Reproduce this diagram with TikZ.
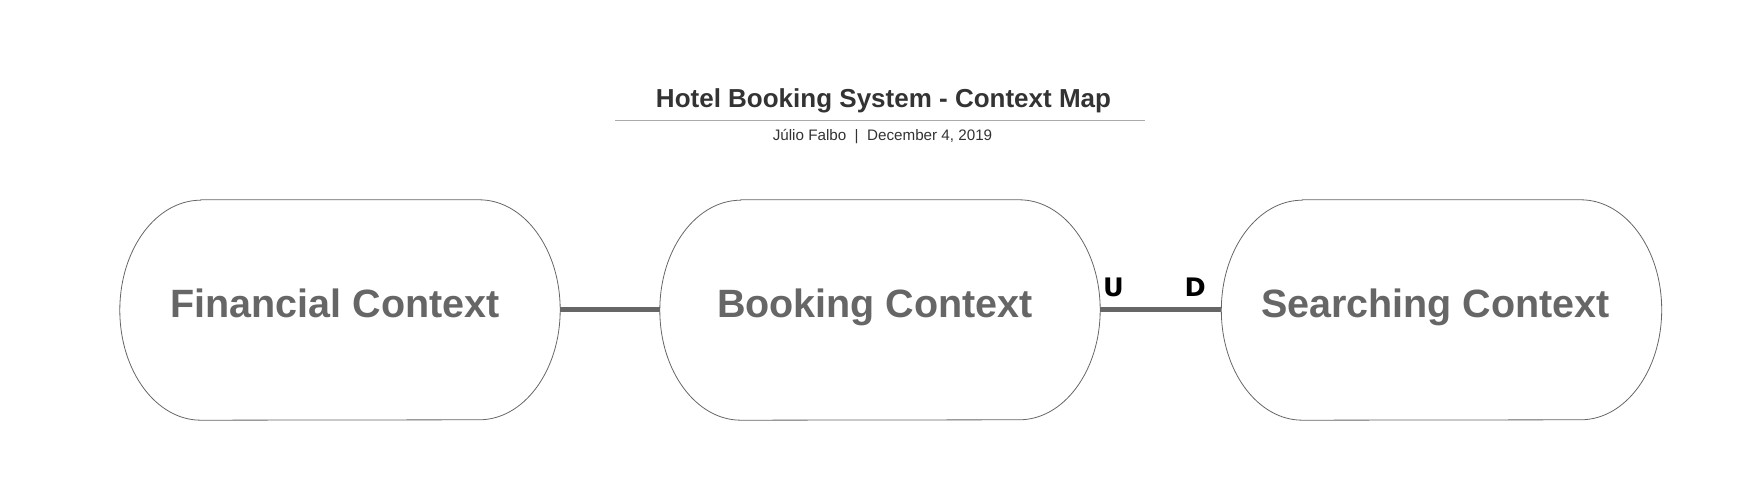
\documentclass[tikz,border=0pt]{standalone}
\usepackage{fontspec}
\setmainfont{Liberation Sans}
\newfontfamily\udfont{DejaVu Sans}
\definecolor{ctxgray}{HTML}{666666}
\definecolor{titlegray}{HTML}{333333}
\definecolor{rulegray}{HTML}{AAAAAA}
\tikzset{
  ctxbox/.style={rectangle, draw=none, minimum width=440pt, minimum height=220pt, inner sep=0pt},
  ctxoutline/.style={draw=ctxgray, line width=0.8pt},
  ctxlabel/.style={anchor=base, inner sep=0pt, text=ctxgray, font=\fontsize{39.5}{44}\selectfont\bfseries},
  conn/.style={draw=ctxgray, line width=4.5pt},
  udlabel/.style={anchor=base west, inner sep=0pt, text=black, font=\udfont\fontsize{25.5}{30}\selectfont\bfseries},
}
\newcommand{\ctxshape}[1]{%
  \draw[ctxoutline] ([xshift=81pt]#1.north west) -- ([xshift=-81pt]#1.north east)
    arc[start angle=90, end angle=-90, x radius=81pt, y radius=110pt]
    -- ([xshift=81pt]#1.south west)
    arc[start angle=270, end angle=90, x radius=81pt, y radius=110pt] -- cycle;}
\begin{document}
\begin{tikzpicture}[x=1pt,y=1pt]
\useasboundingbox (0,0) rectangle (1740,489);
% title
\node[anchor=base, inner sep=0pt, text=titlegray, font=\fontsize{26}{30}\selectfont\bfseries] (title) at (883.5,381.7) {Hotel Booking System - Context Map};
\coordinate (rl) at (615,368.5);
\coordinate (rr) at (1145,368.5);
\draw[rulegray, line width=1.5pt] (rl) -- (rr);
\node[anchor=base, inner sep=0pt, text=titlegray, font=\fontsize{15.2}{18}\selectfont] (sub) at (882.5,348) {Júlio Falbo\ \ |\ \ December 4, 2019};
% context shapes
\node[ctxbox] (f) at (340,179) {};
\node[ctxbox] (b) at (880,179) {};
\node[ctxbox] (s) at (1441.5,179) {};
\ctxshape{f}
\ctxshape{b}
\ctxshape{s}
\node[ctxlabel] (ft) at ([xshift=-5pt,yshift=-8pt]f.center) {Financial Context};
\node[ctxlabel] (bt) at ([xshift=-5pt,yshift=-8pt]b.center) {Booking Context};
\node[ctxlabel] (st) at ([xshift=-6pt,yshift=-8pt]s.center) {Searching Context};
% connectors
\draw[conn] ([yshift=0.5pt]f.east) -- ([yshift=0.5pt]b.west);
\draw[conn] ([yshift=0.5pt]b.east) -- ([yshift=0.5pt]s.west);
\node[udlabel] (u) at (1103,192.7) {U};
\node[udlabel] (d) at (1184.5,192.7) {D};
\end{tikzpicture}
\end{document}
